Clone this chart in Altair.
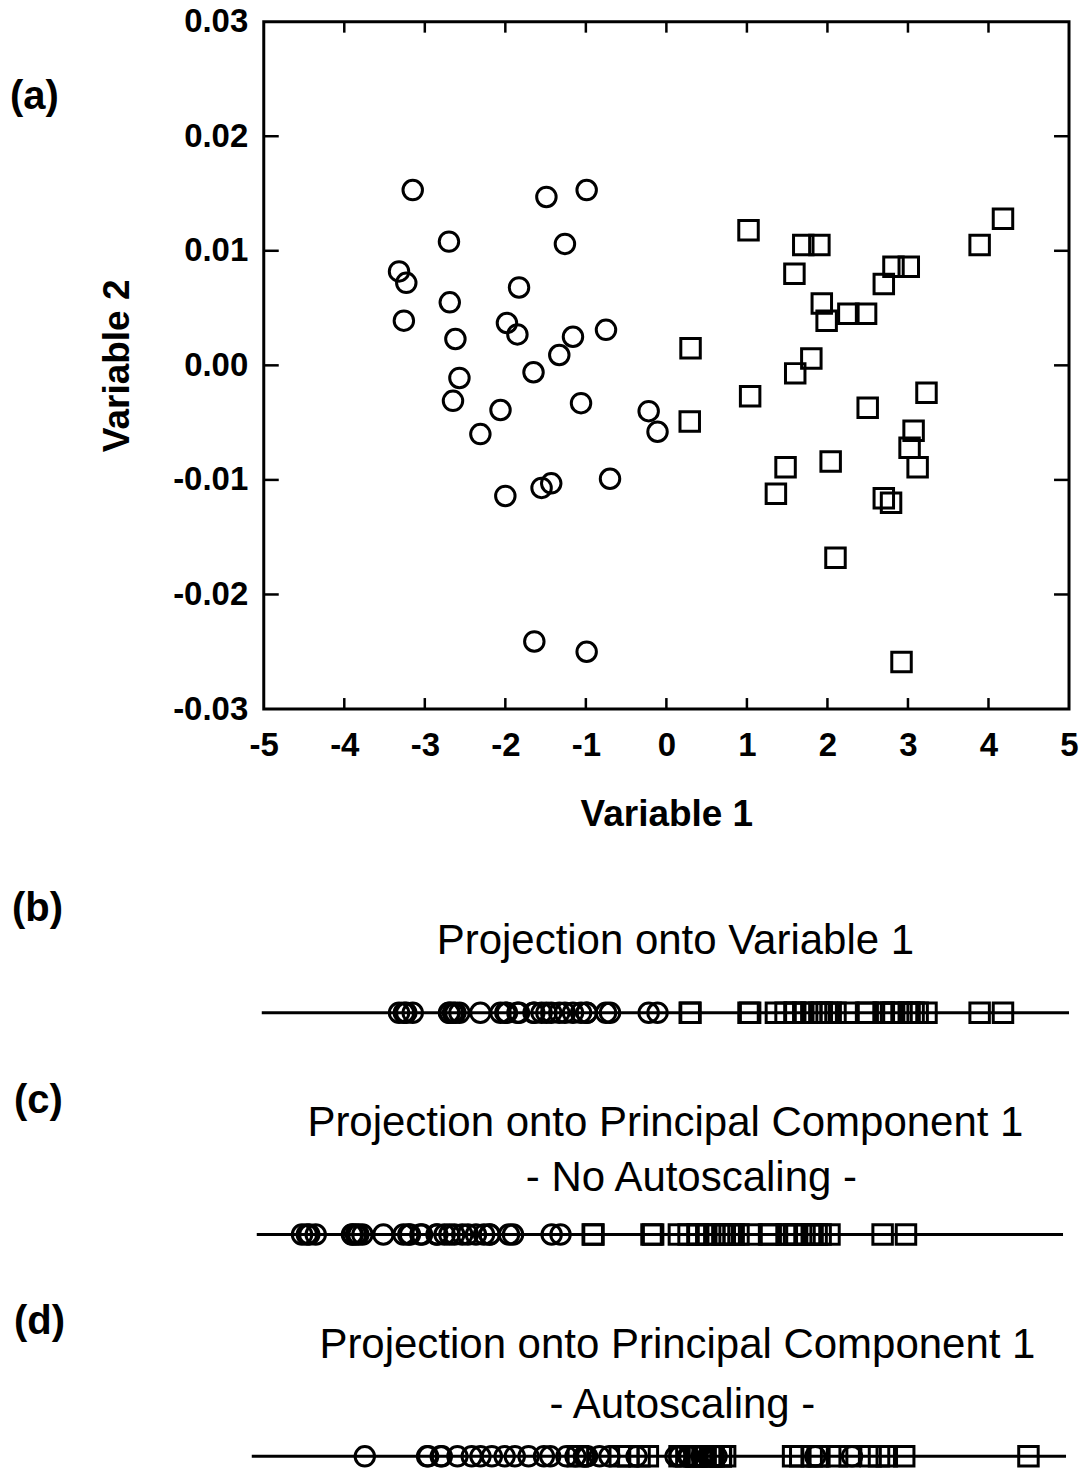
import altair as alt
import pandas as pd
import numpy as np

# ---- data ----
circle_v1 = [-3.15, -3.32, -3.23, -3.26, -2.70, -2.69, -2.62, -2.57, -2.65, -2.31,
             -2.06, -2.00, -1.98, -1.85, -1.83, -1.65, -1.49, -1.55, -1.43, -1.33,
             -1.26, -1.16, -0.99, -1.06, -0.75, -0.70, -1.64, -0.99, -0.22, -0.11]
circle_v2 = [0.0153, 0.0082, 0.0072, 0.0039, 0.0108, 0.0055, 0.0023, -0.0011, -0.0031, -0.0060,
             -0.0039, -0.0114, 0.0037, 0.0027, 0.0068, -0.0006, 0.0147, -0.0107, -0.0103, 0.0009,
             0.0106, 0.0025, 0.0153, -0.0033, 0.0031, -0.0099, -0.0241, -0.0250, -0.0040, -0.0058]
square_v1 = [1.02, 1.70, 1.90, 4.18, 3.89, 1.59, 2.82, 3.01, 2.70, 1.93,
             1.99, 2.26, 2.48, 0.30, 1.80, 1.60, 1.04, 0.29, 3.23, 2.50,
             3.07, 3.02, 3.12, 1.48, 2.04, 1.36, 2.70, 2.79, 2.10, 2.92]
square_v2 = [0.0118, 0.0105, 0.0105, 0.0128, 0.0105, 0.0080, 0.0086, 0.0086, 0.0071, 0.0054,
             0.0039, 0.0045, 0.0045, 0.0015, 0.0006, -0.0007, -0.0027, -0.0049, -0.0024, -0.0037,
             -0.0057, -0.0072, -0.0089, -0.0089, -0.0084, -0.0112, -0.0116, -0.0120, -0.0168, -0.0259]

x_ticks = [-5, -4, -3, -2, -1, 0, 1, 2, 3, 4, 5]
y_ticks = [-0.03, -0.02, -0.01, 0.0, 0.01, 0.02, 0.03]

panel_labels = ["(a)", "(b)", "(c)", "(d)"]
title_b = "Projection onto Variable 1"
title_pc = "Projection onto Principal Component 1"
sub_c = "- No Autoscaling -"
sub_d = "- Autoscaling -"

FONT = "Liberation Sans"

# ---- projections derived from the same points ----
groups = ["circle"] * len(circle_v1) + ["square"] * len(square_v1)
X = np.column_stack([np.r_[circle_v1, square_v1], np.r_[circle_v2, square_v2]])
Xc = X - X.mean(axis=0)


def pc1_scores(M):
    w, v = np.linalg.eigh(np.cov(M, rowvar=False))
    p = v[:, np.argmax(w)]
    if p[0] < 0:
        p = -p
    return M @ p


proj_b = X[:, 0]
proj_c = pc1_scores(Xc)
proj_d = pc1_scores(Xc / X.std(axis=0, ddof=1))

W, H = 806, 688
shape_scale = alt.Scale(domain=["circle", "square"], range=["circle", "square"])

# ---- panel (a) ----
scatter_df = pd.DataFrame({"v1": X[:, 0], "v2": X[:, 1], "g": groups})
xs = alt.Scale(domain=[-5, 5], nice=False, zero=False)
ys = alt.Scale(domain=[-0.03, 0.03], nice=False, zero=False)

x_axis = alt.Axis(
    values=x_ticks, ticks=False, domain=False, grid=False,
    labelFontSize=33, labelFontWeight="bold", labelPadding=21,
    labelFlush=False, labelOverlap=False,
    labelExpr="datum.value < 0 ? '-' + format(-datum.value, 'd') : format(datum.value, 'd')",
    title="Variable 1", titleFontSize=37, titleFontWeight="bold", titlePadding=34)
y_axis = alt.Axis(
    values=y_ticks, ticks=False, domain=False, grid=False,
    labelFontSize=33, labelFontWeight="bold", labelPadding=16,
    labelFlush=False, labelOverlap=False,
    labelExpr="datum.value < 0 ? '-' + format(-datum.value, '.2f') : format(datum.value, '.2f')",
    title="Variable 2", titleFontSize=37, titleFontWeight="bold", titlePadding=36)

points = alt.Chart(scatter_df).mark_point(
    filled=False, color="black", strokeWidth=3, size=380, opacity=1
).encode(
    x=alt.X("v1:Q", scale=xs, axis=x_axis),
    y=alt.Y("v2:Q", scale=ys, axis=y_axis),
    shape=alt.Shape("g:N", scale=shape_scale, legend=None),
)

xt_df = pd.DataFrame({"v1": x_ticks[1:-1]})
yt_df = pd.DataFrame({"v2": y_ticks[1:-1]})
tick_top = alt.Chart(xt_df).mark_rule(color="black", strokeWidth=2.5).encode(
    x=alt.X("v1:Q", scale=xs, axis=x_axis), y=alt.value(0), y2=alt.value(11))
tick_bot = alt.Chart(xt_df).mark_rule(color="black", strokeWidth=2.5).encode(
    x=alt.X("v1:Q", scale=xs, axis=x_axis), y=alt.value(H - 11), y2=alt.value(H))
tick_left = alt.Chart(yt_df).mark_rule(color="black", strokeWidth=2.5).encode(
    y=alt.Y("v2:Q", scale=ys, axis=y_axis), x=alt.value(0), x2=alt.value(15))
tick_right = alt.Chart(yt_df).mark_rule(color="black", strokeWidth=2.5).encode(
    y=alt.Y("v2:Q", scale=ys, axis=y_axis), x=alt.value(W - 15), x2=alt.value(W))


def label(text, x, y, size, weight="normal", align="center"):
    return alt.Chart(pd.DataFrame({"t": [text]})).mark_text(
        font=FONT, fontSize=size, fontWeight=weight, align=align,
        baseline="middle", color="black"
    ).encode(text="t:N", x=alt.value(x), y=alt.value(y))


lab_a = label(panel_labels[0], -254, 75, 40, "bold", "left")

panel_a = alt.layer(points, tick_top, tick_bot, tick_left, tick_right, lab_a).properties(
    width=W, height=H, view=alt.ViewBackground(stroke="black", strokeWidth=3)
)

# ---- panels (b), (c), (d) ----
H2 = 627


def strip(values, field, domain, y, x0, x1):
    df = pd.DataFrame({field: values, "g": groups})
    line = alt.Chart(pd.DataFrame({"k": [0]})).mark_rule(color="black", strokeWidth=3).encode(
        x=alt.value(x0), x2=alt.value(x1), y=alt.value(y))
    pts = alt.Chart(df).mark_point(
        filled=False, color="black", strokeWidth=3, size=380, opacity=1
    ).encode(
        x=alt.X(f"{field}:Q", scale=alt.Scale(domain=domain, nice=False, zero=False), axis=None),
        y=alt.value(y),
        shape=alt.Shape("g:N", scale=shape_scale, legend=None),
    )
    return [line, pts]


layers = []
layers += [label(panel_labels[1], -252, 58, 40, "bold", "left"),
           label(title_b, 412, 90, 42)]
layers += strip(proj_b, "pb", [-5, 5], 162, -2, W)
layers += [label(panel_labels[2], -250, 250, 40, "bold", "left"),
           label(title_pc, 402, 272, 42),
           label(sub_c, 428, 327, 42)]
layers += strip(proj_c, "pc", [-4, 6], 384, -7, W - 6)
layers += [label(panel_labels[3], -250, 472, 40, "bold", "left"),
           label(title_pc, 414, 495, 42),
           label(sub_d, 419, 555, 42)]
layers += strip(proj_d, "pd", [-2.95, 3.0], 606, -12, W - 3)

panel_bcd = alt.layer(*layers).resolve_scale(x="independent").properties(
    width=W, height=H2, view=alt.ViewBackground(strokeWidth=0)
)

chart = alt.vconcat(panel_a, panel_bcd, spacing=16).properties(
    padding={"left": 8, "top": 3, "right": 4, "bottom": 0}
).configure_axis(
    labelFont=FONT, titleFont=FONT, labelColor="black", titleColor="black"
)

chart.save("out.html", embed_options={"renderer": "svg", "actions": False})
